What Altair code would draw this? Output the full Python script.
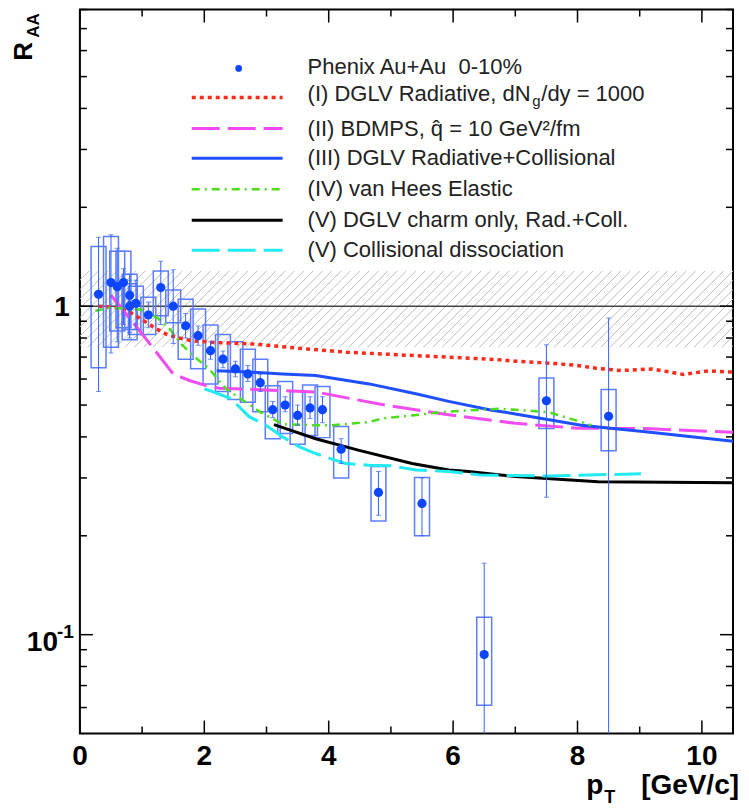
import altair as alt
import pandas as pd
import numpy as np

# ---------------- data ----------------
pt = [0.3, 0.5, 0.6, 0.7, 0.8, 0.8, 0.9, 1.1, 1.3, 1.5, 1.7, 1.9, 2.1, 2.3, 2.5, 2.7, 2.9,
      3.1, 3.3, 3.5, 3.7, 3.9, 4.2, 4.8, 5.5, 6.5, 7.5, 8.5]
raa = [1.087, 1.18, 1.147, 1.18, 1.08, 1.0, 1.02, 0.94, 1.14, 1.0, 0.872, 0.813, 0.732, 0.69,
       0.644, 0.622, 0.585, 0.484, 0.50, 0.465, 0.49, 0.484, 0.367, 0.271, 0.251, 0.087, 0.515, 0.462]
stat_lo = [0.55, 0.72, 0.78, 0.88, 0.83, 0.80, 0.85, 0.86, 0.88, 0.77, 0.80, 0.76, 0.69, 0.65,
           0.61, 0.59, 0.55, 0.458, 0.477, 0.434, 0.455, 0.442, 0.332, 0.231, 0.20, 0.04, 0.262, 0.04]
stat_hi = [1.62, 1.65, 1.50, 1.30, 1.25, 1.20, 1.20, 1.03, 1.37, 1.29, 0.95, 0.87, 0.78, 0.73,
           0.68, 0.66, 0.62, 0.513, 0.53, 0.50, 0.53, 0.53, 0.395, 0.314, 0.30, 0.165, 0.763, 0.92]
sys_lo = [0.65, 0.75, 0.84, 0.86, 0.79, 0.85, 0.82, 0.82, 0.935, 0.89, 0.69, 0.645, 0.58, 0.55,
          0.52, 0.51, 0.477, 0.395, 0.41, 0.38, 0.404, 0.398, 0.30, 0.222, 0.20, 0.061, 0.424, 0.363]
sys_hi = [1.52, 1.63, 1.47, 1.47, 1.25, 1.17, 1.15, 1.065, 1.28, 1.12, 1.05, 0.98, 0.876, 0.82,
          0.78, 0.74, 0.69, 0.573, 0.59, 0.55, 0.576, 0.57, 0.43, 0.325, 0.301, 0.113, 0.605, 0.558]
box_halfwidth = 0.12

red_x = [0.3, 0.6, 0.8, 1.0, 1.2, 1.4, 1.6, 1.8, 2.2, 2.8, 3.5, 4.3, 5.4, 5.9, 6.7, 7.0, 7.5,
         8.0, 8.3, 8.7, 9.2, 9.7, 10.1, 10.5]
red_y = [1.0, 0.99, 0.96, 0.91, 0.86, 0.82, 0.80, 0.785, 0.775, 0.767, 0.745, 0.724, 0.707, 0.70,
         0.688, 0.68, 0.672, 0.66, 0.647, 0.637, 0.644, 0.62, 0.635, 0.63]

mag_x = [0.5, 0.9, 1.23, 1.5, 1.76, 2.03, 2.24, 2.88, 3.8, 4.9, 5.9, 7.0, 8.0, 9.1, 10.5]
mag_y = [1.08, 0.87, 0.724, 0.622, 0.594, 0.573, 0.563, 0.557, 0.548, 0.50, 0.468, 0.44, 0.425,
         0.424, 0.413]

blue_x = [2.2, 2.72, 3.26, 3.79, 4.65, 5.4, 5.93, 6.62, 7.0, 8.06, 9.13, 10.5]
blue_y = [0.636, 0.63, 0.622, 0.615, 0.58, 0.541, 0.513, 0.482, 0.47, 0.434, 0.414, 0.388]

green_x = [0.25, 0.5, 1.0, 1.25, 1.45, 1.63, 1.82, 2.08, 2.35, 2.67, 2.9, 3.26, 3.8, 4.06, 4.65,
           4.86, 5.93, 6.73, 7.0, 7.53, 7.96, 8.22]
green_y = [0.968, 0.99, 0.975, 0.92, 0.85, 0.767, 0.707, 0.644, 0.56, 0.51, 0.476, 0.437, 0.434,
           0.434, 0.444, 0.455, 0.478, 0.487, 0.484, 0.476, 0.45, 0.434]

black_x = [3.12, 3.79, 4.49, 5.34, 5.93, 6.25, 7.0, 8.33, 10.5]
black_y = [0.436, 0.395, 0.364, 0.332, 0.317, 0.314, 0.303, 0.292, 0.29]

cyan_x = [2.0, 2.08, 2.43, 2.56, 2.72, 2.99, 3.26, 3.53, 3.79, 4.27, 4.65, 5.0, 5.4, 5.93, 6.46,
          7.53, 9.02]
cyan_y = [0.56, 0.554, 0.523, 0.494, 0.461, 0.434, 0.40, 0.373, 0.356, 0.332, 0.328, 0.327, 0.317,
          0.314, 0.306, 0.304, 0.309]

band_lo, band_hi = 0.75, 1.28

x_major = [0, 2, 4, 6, 8, 10]
x_minor = [1, 3, 5, 7, 9]
y_major = [0.1, 1.0]
y_minor = [0.06, 0.07, 0.08, 0.09, 0.2, 0.3, 0.4, 0.5, 0.6, 0.7, 0.8, 0.9, 2, 3, 4, 5, 6, 7, 8]
x_labels = ["0", "2", "4", "6", "8", "10"]

legend_phenix = "Phenix Au+Au\u00a0 0-10%"
legend_models = [
    "(I) DGLV Radiative, dN",
    "(II) BDMPS, q\u0302 = 10 GeV\u00b2/fm",
    "(III) DGLV Radiative+Collisional",
    "(IV) van Hees Elastic",
    "(V) DGLV charm only, Rad.+Coll.",
    "(V) Collisional dissociation",
]

# ---------------- layout / style ----------------
W, H = 654, 725
XMIN, XMAX = 0, 10.5
YMIN, YMAX = 0.05, 8
xs = alt.Scale(domain=[XMIN, XMAX], nice=False, zero=False)
ys = alt.Scale(type="log", domain=[YMIN, YMAX], nice=False)
FONT = "Liberation Sans"
PT_COLOR = "#0c46ff"


def X(f):
    return alt.X(f, type="quantitative", scale=xs, axis=None)


def Y(f):
    return alt.Y(f, type="quantitative", scale=ys, axis=None)


one = pd.DataFrame({"a": [0]})
layers = []

# hatched normalisation band
pix_h = H * (np.log10(band_hi) - np.log10(band_lo)) / (np.log10(YMAX) - np.log10(YMIN))
dx = pix_h / (W / (XMAX - XMIN))
x0 = np.arange(XMIN - dx, XMAX + 0.01, 0.15)
hatch = pd.DataFrame({"x0": x0, "x1": x0 + dx, "lo": band_lo, "hi": band_hi})
layers.append(alt.Chart(hatch).mark_rule(color="#bdbdbd", strokeWidth=1, clip=True).encode(
    x=X("x0"), x2="x1", y=Y("lo"), y2="hi"))

# unity line
layers.append(alt.Chart(pd.DataFrame({"v": [1.0]})).mark_rule(color="#444444", strokeWidth=1.5).encode(
    y=Y("v")))

pts = pd.DataFrame({"pt": pt, "raa": raa, "slo": stat_lo, "shi": stat_hi,
                    "ylo": sys_lo, "yhi": sys_hi})
pts["bx0"] = pts["pt"] - box_halfwidth
pts["bx1"] = pts["pt"] + box_halfwidth

# systematic boxes
layers.append(alt.Chart(pts).mark_rect(fillOpacity=0, stroke="#5d7dff", strokeWidth=1.5, clip=True).encode(
    x=X("bx0"), x2="bx1", y=Y("ylo"), y2="yhi"))

# model curves
curves = [
    (red_x, red_y, "#ff2a1a", [4, 4], 3.5),
    (mag_x, mag_y, "#f04cf0", [28, 8], 3),
    (blue_x, blue_y, "#1f4fff", None, 3),
    (green_x, green_y, "#4ddd1a", [8, 5, 2, 5], 2.5),
    (black_x, black_y, "#000000", None, 3),
    (cyan_x, cyan_y, "#22eaf0", [28, 8], 3),
]
for cx, cy, col, dash, sw in curves:
    kw = dict(color=col, strokeWidth=sw)
    if dash:
        kw["strokeDash"] = dash
    layers.append(alt.Chart(pd.DataFrame({"x": cx, "y": cy})).mark_line(**kw).encode(
        x=X("x"), y=Y("y")))

# statistical error bars
layers.append(alt.Chart(pts).mark_rule(color="#3562ff", strokeWidth=1, clip=True).encode(
    x=X("pt"), y=Y("slo"), y2="shi"))
caps_lo = pts[pts["slo"] > YMIN]
layers.append(alt.Chart(caps_lo).mark_tick(orient="horizontal", size=5, thickness=1,
                                           color="#3562ff", clip=True).encode(x=X("pt"), y=Y("slo")))
layers.append(alt.Chart(pts).mark_tick(orient="horizontal", size=5, thickness=1,
                                       color="#3562ff", clip=True).encode(x=X("pt"), y=Y("shi")))

# data points
layers.append(alt.Chart(pts).mark_point(filled=True, size=85, opacity=1, color=PT_COLOR).encode(
    x=X("pt"), y=Y("raa")))

# ---------------- legend ----------------
LX_SYM0, LX_SYM1, LX_TXT = 112, 203, 228
row_line_y = [88, 119, 149, 180, 211, 241]
row_text_y = [85, 120, 149, 180, 211, 241]

layers.append(alt.Chart(one).mark_point(filled=True, size=45, opacity=1, color=PT_COLOR).encode(
    x=alt.value(159), y=alt.value(59)))
layers.append(alt.Chart(one).mark_text(text=legend_phenix, font=FONT, fontSize=22, color="#222",
                                       align="left", baseline="middle").encode(
    x=alt.value(LX_TXT), y=alt.value(58)))
for i, (cx, cy, col, dash, sw) in enumerate(curves):
    kw = dict(color=col, strokeWidth=sw)
    if dash:
        kw["strokeDash"] = dash
    layers.append(alt.Chart(one).mark_rule(**kw).encode(
        x=alt.value(LX_SYM0), x2=alt.value(LX_SYM1), y=alt.value(row_line_y[i])))
    layers.append(alt.Chart(one).mark_text(text=legend_models[i], font=FONT, fontSize=22, color="#222",
                                           align="left", baseline="middle").encode(
        x=alt.value(LX_TXT), y=alt.value(row_text_y[i])))
# subscript g and the rest of row (I)
g_x = LX_TXT + 225
layers.append(alt.Chart(one).mark_text(text="g", font=FONT, fontSize=15, color="#222",
                                       align="left", baseline="middle").encode(
    x=alt.value(g_x), y=alt.value(row_text_y[0] + 7)))
layers.append(alt.Chart(one).mark_text(text="/dy = 1000", font=FONT, fontSize=22, color="#222",
                                       align="left", baseline="middle").encode(
    x=alt.value(g_x + 9), y=alt.value(row_text_y[0])))

# ---------------- axes (inward ticks, ROOT style) ----------------
TICK = dict(color="black", strokeWidth=1.5)
MAJ, MIN = 13, 7
for vals, L in ((x_major, MAJ), (x_minor, MIN)):
    d = pd.DataFrame({"v": vals})
    layers.append(alt.Chart(d).mark_rule(**TICK).encode(x=X("v"), y=alt.value(H), y2=alt.value(H - L)))
    layers.append(alt.Chart(d).mark_rule(**TICK).encode(x=X("v"), y=alt.value(0), y2=alt.value(L)))
for vals, L in ((y_major, MAJ), (y_minor, MIN)):
    d = pd.DataFrame({"v": vals})
    layers.append(alt.Chart(d).mark_rule(**TICK).encode(y=Y("v"), x=alt.value(0), x2=alt.value(L)))
    layers.append(alt.Chart(d).mark_rule(**TICK).encode(y=Y("v"), x=alt.value(W), x2=alt.value(W - L)))

# x tick labels
layers.append(alt.Chart(pd.DataFrame({"v": x_major, "lab": x_labels})).mark_text(
    font=FONT, fontSize=28, fontWeight="bold", align="center", baseline="alphabetic", color="black").encode(
    x=X("v"), y=alt.value(H + 31), text="lab:N"))
# y tick labels
layers.append(alt.Chart(pd.DataFrame({"v": [1.0]})).mark_text(
    text="1", font=FONT, fontSize=28, fontWeight="bold", align="right", baseline="alphabetic",
    dy=10, color="black").encode(y=Y("v"), x=alt.value(-10)))
layers.append(alt.Chart(pd.DataFrame({"v": [0.1]})).mark_text(
    text="10", font=FONT, fontSize=28, fontWeight="bold", align="right", baseline="alphabetic",
    dy=16, color="black").encode(y=Y("v"), x=alt.value(-22)))
layers.append(alt.Chart(pd.DataFrame({"v": [0.1]})).mark_text(
    text="-1", font=FONT, fontSize=19, fontWeight="bold", align="left", baseline="alphabetic",
    dy=3, color="black").encode(y=Y("v"), x=alt.value(-23)))

# axis titles
layers.append(alt.Chart(one).mark_text(text="R", font=FONT, fontSize=26, fontWeight="bold", angle=270,
                                       align="center", baseline="middle", color="black").encode(
    x=alt.value(-56), y=alt.value(42)))
layers.append(alt.Chart(one).mark_text(text="AA", font=FONT, fontSize=17, fontWeight="bold", angle=270,
                                       align="center", baseline="middle", color="black").encode(
    x=alt.value(-46), y=alt.value(16)))
layers.append(alt.Chart(one).mark_text(text="p", font=FONT, fontSize=28, fontWeight="bold",
                                       align="left", baseline="alphabetic", color="black").encode(
    x=alt.value(507), y=alt.value(H + 61)))
layers.append(alt.Chart(one).mark_text(text="T", font=FONT, fontSize=18, fontWeight="bold",
                                       align="left", baseline="alphabetic", color="black").encode(
    x=alt.value(525), y=alt.value(H + 70)))
layers.append(alt.Chart(one).mark_text(text="[GeV/c]", font=FONT, fontSize=28, fontWeight="bold",
                                       align="right", baseline="alphabetic", color="black").encode(
    x=alt.value(W + 6), y=alt.value(H + 61)))

chart = alt.layer(*layers).properties(
    width=W, height=H,
    autosize=alt.AutoSizeParams(type="none"),
    padding={"left": 72, "top": 1, "right": 8, "bottom": 76},
).configure_view(stroke="black", strokeWidth=2)

chart.save("out.html", embed_options={"renderer": "svg", "actions": False})
